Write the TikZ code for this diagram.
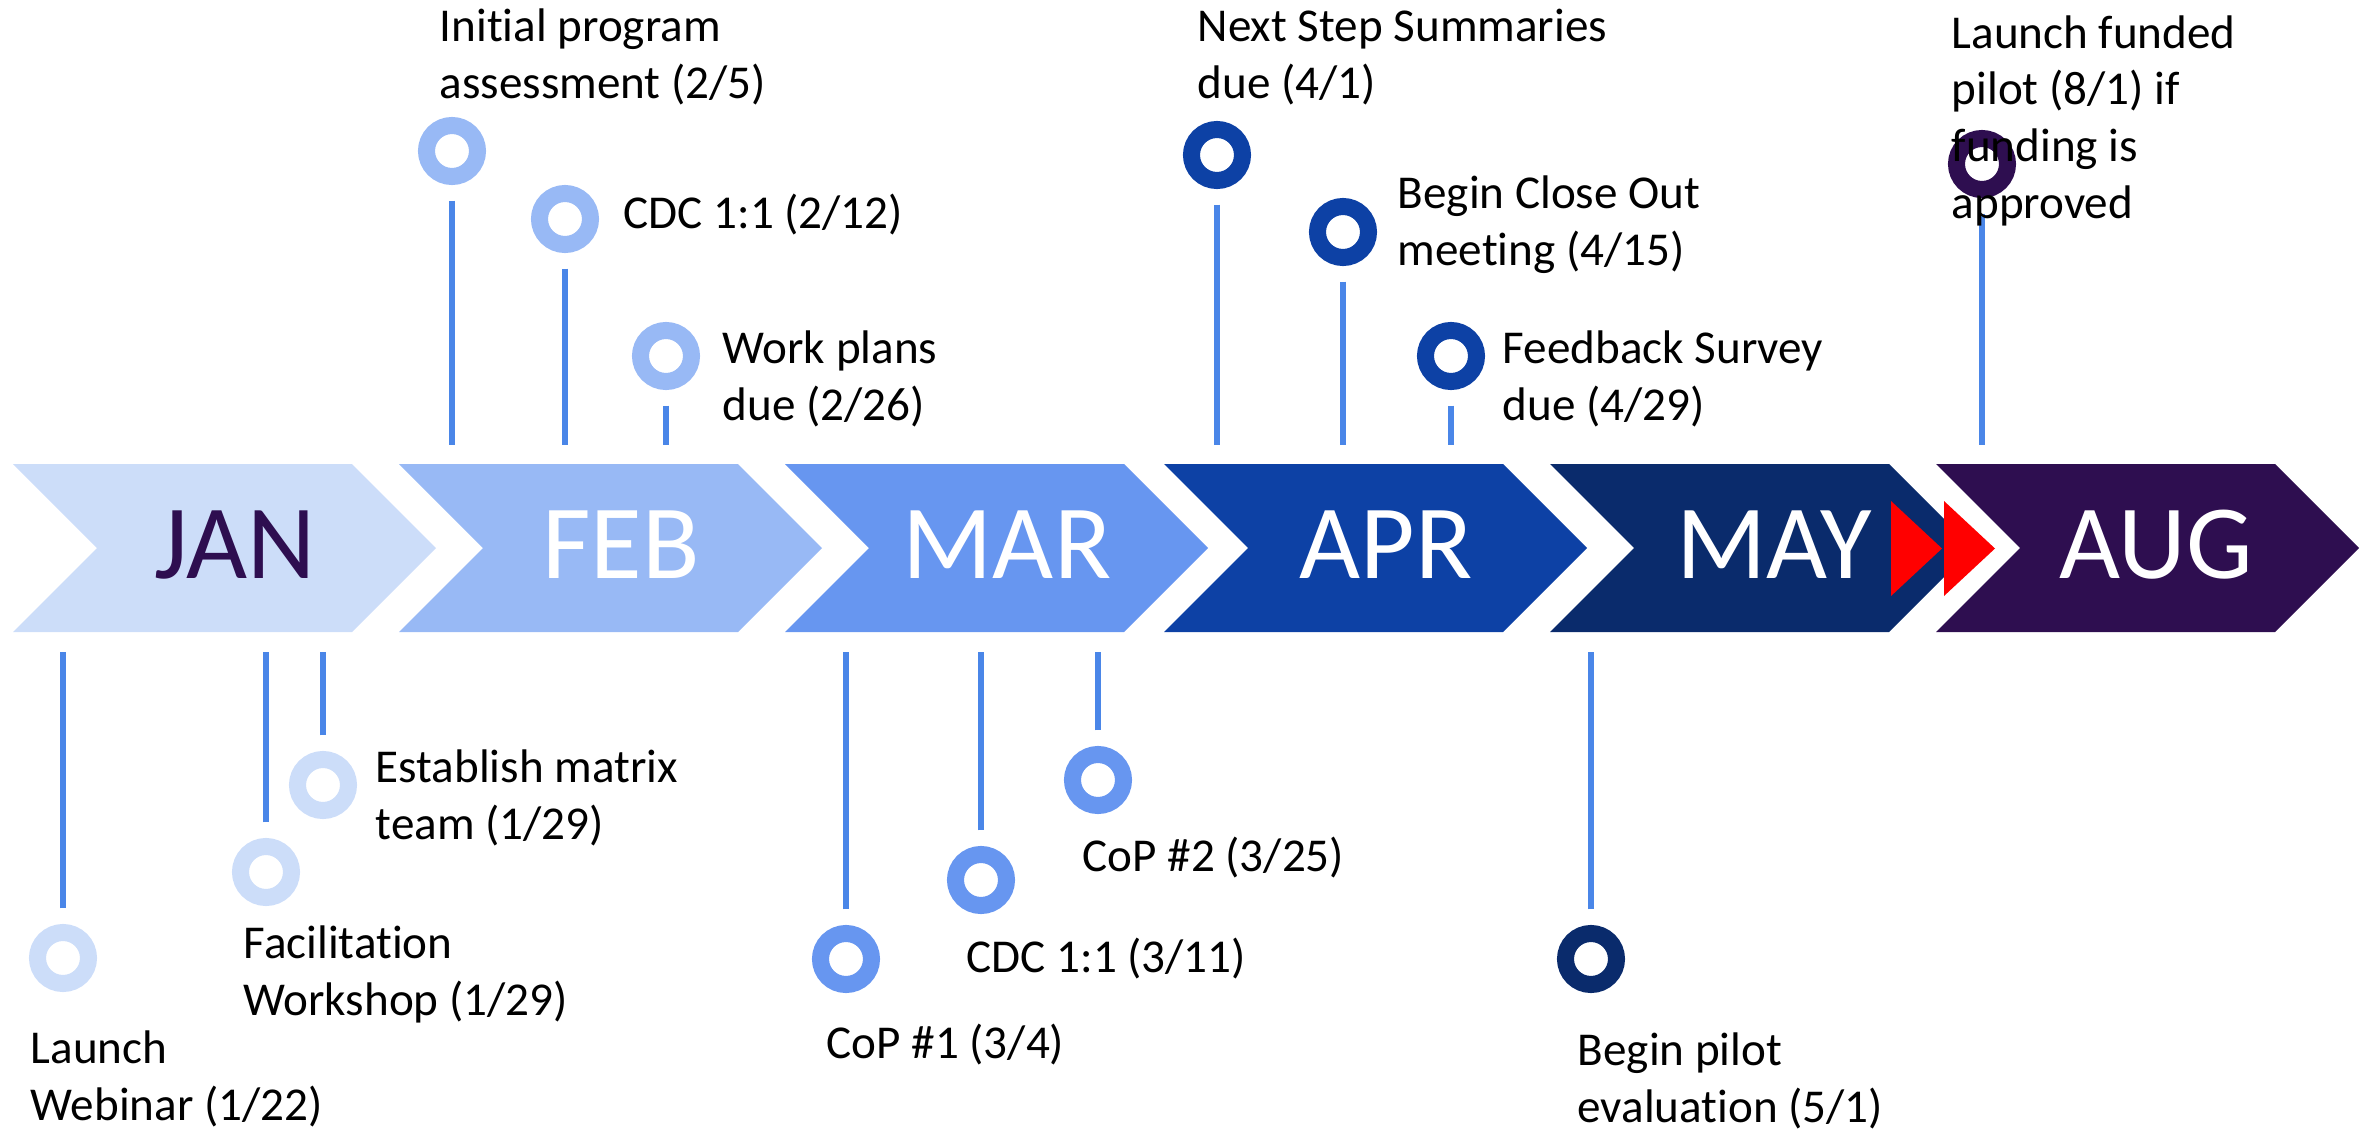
\documentclass[tikz,border=0pt]{standalone}
\usepackage{fontspec}
\setmainfont{Carlito}[Ligatures=NoCommon]
\begin{document}
\begin{tikzpicture}[x=0.01cm,y=-0.01cm,
  label/.style={anchor=base west,inner sep=0pt,align=left,font=\fontsize{13.4}{16.1}\selectfont},
  month/.style={anchor=base,inner sep=0pt,font=\fontsize{30}{36}\selectfont},
  ring/.style={circle,inner sep=0pt,minimum size=0.51cm,line width=0.17cm,draw=#1,fill=white},
  stem/.style={draw=linecol,line width=1.45pt,shorten <=0.155cm}]
\definecolor{cjan}{HTML}{CCDDF9}
\definecolor{cfeb}{HTML}{98B9F5}
\definecolor{cmar}{HTML}{6796F0}
\definecolor{capr}{HTML}{0D41A5}
\definecolor{cmay}{HTML}{0A2B6C}
\definecolor{caug}{HTML}{2E0E50}
\definecolor{linecol}{HTML}{4A86E8}
\useasboundingbox (0,0) rectangle (2371,1130);

% month chevrons
\foreach \L/\c in {13/cjan,399/cfeb,785/cmar,1164/capr,1550/cmay,1936/caug}
  \fill[\c] (\L,464) -- ++(339,0) -- ++(84,84) -- ++(-84,84) -- ++(-339,0) -- ++(84,-84) -- cycle;

% month names
\node[month,text=caug] (jan) at (235,578) {JAN};
\node[month,text=white] (feb) at (621,578) {FEB};
\node[month,text=white] (mar) at (1007,578) {MAR};
\node[month,text=white] (apr) at (1386,578) {APR};
\node[month,text=white] (may) at (1774,578) {MAY};
\node[month,text=white] (aug) at (2156,578) {AUG};

% red double arrow between MAY and AUG
\fill[red] (1891,501) -- (1942,548.5) -- (1891,596) -- cycle;
\fill[red] (1944,501) -- (1995,548.5) -- (1944,596) -- cycle;

% milestone markers above the bar
\coordinate (topend) at (0,445);
\coordinate (botend) at (0,652);
\node[ring=cfeb] (t1) at (452,151) {};
\node[ring=cfeb] (t2) at (565,219) {};
\node[ring=cfeb] (t3) at (666,356) {};
\node[ring=capr] (t4) at (1217,155) {};
\node[ring=capr] (t5) at (1343,232) {};
\node[ring=capr] (t6) at (1451,356) {};
\node[ring=caug] (t7) at (1982,164) {};
\foreach \n in {t1,t2,t3,t4,t5,t6,t7}
  \draw[stem] (\n) -- (\n |- topend);

% milestone markers below the bar
\node[ring=cjan] (b1) at (63,958) {};
\node[ring=cjan] (b2) at (266,872) {};
\node[ring=cjan] (b3) at (323,785) {};
\node[ring=cmar] (b4) at (846,959) {};
\node[ring=cmar] (b5) at (981,880) {};
\node[ring=cmar] (b6) at (1098,780) {};
\node[ring=cmay] (b7) at (1591,959) {};
\foreach \n in {b1,b2,b3,b4,b5,b6,b7}
  \draw[stem] (\n) -- (\n |- botend);

% milestone texts (anchored at the baseline of their last line)
\node[label] (lt1) at (439,98) {Initial program\\assessment (2/5)};
\node[label] (lt2) at (623,228) {CDC 1:1 (2/12)};
\node[label] (lt3) at (722,420) {Work plans\\due (2/26)};
\node[label] (lt4) at (1197,98) {Next Step Summaries\\due (4/1)};
\node[label] (lt5) at (1397,265) {Begin Close Out\\meeting (4/15)};
\node[label] (lt6) at (1502,420) {Feedback Survey\\due (4/29)};
\node[label] (lt7) at (1951,218) {Launch funded\\pilot (8/1) if\\funding is\\approved};

\node[label] (lb1) at (30,1120) {Launch\\Webinar (1/22)};
\node[label] (lb2) at (243,1015) {Facilitation\\Workshop (1/29)};
\node[label] (lb3) at (375,839) {Establish matrix\\team (1/29)};
\node[label] (lb4) at (826,1058) {CoP \#1 (3/4)};
\node[label] (lb5) at (966,972) {CDC 1:1 (3/11)};
\node[label] (lb6) at (1082,871) {CoP \#2 (3/25)};
\node[label] (lb7) at (1577,1122) {Begin pilot\\evaluation (5/1)};
\end{tikzpicture}
\end{document}
